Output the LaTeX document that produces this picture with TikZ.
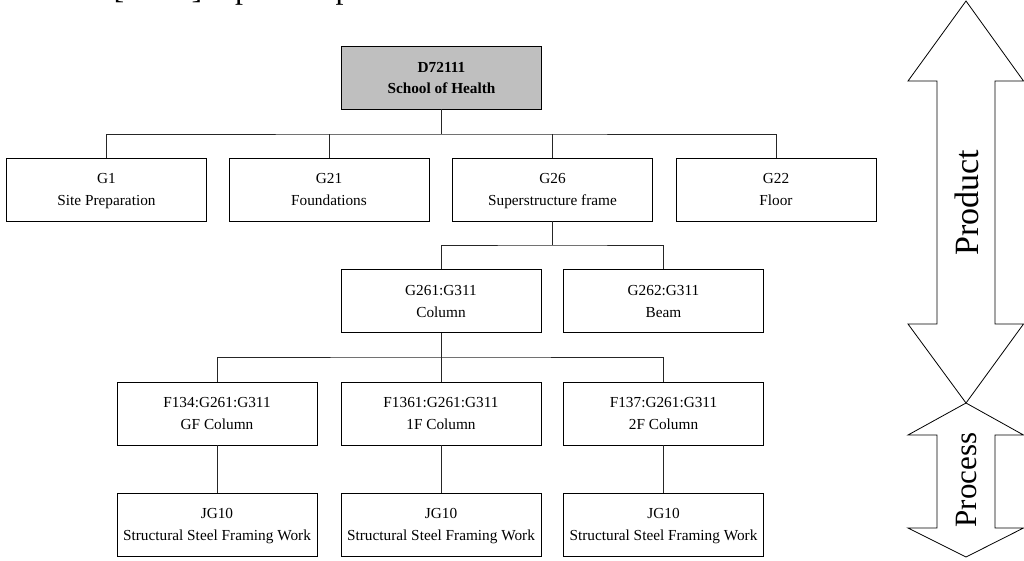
\documentclass[tikz,border=0pt]{standalone}
\usepackage{fontspec}
\setmainfont{Liberation Serif}
\begin{document}
\begin{tikzpicture}[x=1pt,y=-1pt,
  box/.style={draw=black,line width=0.8pt,minimum width=200pt,minimum height=63pt,
    inner sep=0pt,align=center,text depth=0pt,font=\fontsize{15.3}{22}\selectfont},
  topbox/.style={box,fill=black!25,font=\fontsize{15.3}{21}\selectfont\bfseries},
  conn/.style={draw=black!85,line width=0.8pt},
  bigarrow/.style={draw=black,line width=0.8pt,line join=miter,fill=white}]
\useasboundingbox (0,0) rectangle (1024,560);

% clipped caption line at the top
\node[anchor=base west,inner sep=0pt,font=\fontsize{32}{36}\selectfont] (cap) at (-4,-1.5) {the level [JG10] represent process.};

% tree nodes
\node[topbox] (top) at (441.5,77.5) {D72111\\School of Health};
\node[box] (g1)  at (106.5,189.5) {G1\\Site Preparation};
\node[box] (g21) at (329,189.5) {G21\\Foundations};
\node[box] (g26) at (552.5,189.5) {G26\\Superstructure frame};
\node[box] (g22) at (776,189.5) {G22\\Floor};
\node[box] (col)  at (441,301) {G261:G311\\Column};
\node[box] (beam) at (663.5,301) {G262:G311\\Beam};
\node[box] (f1) at (217,413.5) {F134:G261:G311\\GF Column};
\node[box] (f2) at (441,413.5) {F1361:G261:G311\\1F Column};
\node[box] (f3) at (663.5,413.5) {F137:G261:G311\\2F Column};
\node[box] (j1) at (217,524.5) {JG10\\Structural Steel Framing Work};
\node[box] (j2) at (441,524.5) {JG10\\Structural Steel Framing Work};
\node[box] (j3) at (663.5,524.5) {JG10\\Structural Steel Framing Work};

% bus points
\coordinate (b1) at (441.5,134);
\coordinate (b2) at (552.5,245);
\coordinate (b3) at (441,357);

% connectors
\draw[conn] (top) -- (b1);
\draw[conn] (g1.north) |- (b1) -| (g22.north);
\draw[conn] (g21.north) -- (g21.north |- b1);
\draw[conn] (g26.north) -- (g26.north |- b1);
\draw[conn] (g26) -- (b2);
\draw[conn] (col.north) |- (b2) -| (beam.north);
\draw[conn] (col) -- (b3);
\draw[conn] (f1.north) |- (b3) -| (f3.north);
\draw[conn] (f2) -- (b3);
\draw[conn] (f1) -- (j1);
\draw[conn] (f2) -- (j2);
\draw[conn] (f3) -- (j3);

% Product / Process double arrows
\draw[bigarrow] (966,1) -- (1023.5,81) -- (995,81) -- (995,324) -- (1023.5,324) -- (966,403)
  -- (908,324) -- (937,324) -- (937,81) -- (908,81) -- cycle;
\draw[bigarrow] (966,403) -- (1023.5,435) -- (995,435) -- (995,528) -- (1023.5,528) -- (966,557)
  -- (908,528) -- (937,528) -- (937,435) -- (908,435) -- cycle;
\node[rotate=90,inner sep=0pt,font=\fontsize{34}{36}\selectfont] (prod) at (966.5,203) {Product};
\node[rotate=90,inner sep=0pt,font=\fontsize{31}{34}\selectfont] (proc) at (966.5,480) {Process};
\end{tikzpicture}
\end{document}
